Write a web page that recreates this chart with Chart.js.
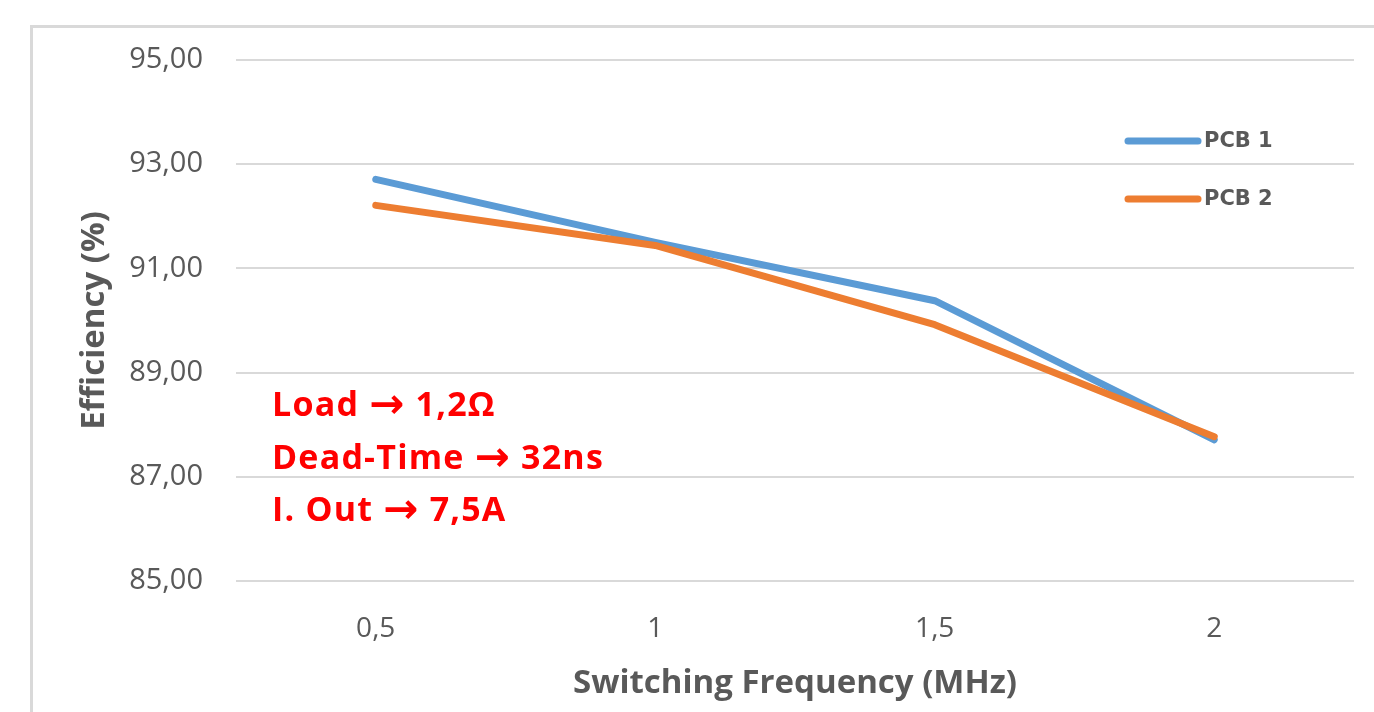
<!DOCTYPE html>
<html>
<head>
<meta charset="utf-8">
<script src="https://cdn.jsdelivr.net/npm/chart.js@4.4.1/dist/chart.umd.min.js"></script>
<style>
  html, body { margin: 0; padding: 0; background: #fff; overflow: hidden; }
  #wrap { position: relative; width: 1374px; height: 712px; }
  #frame {
    position: absolute; left: 30px; top: 25px; right: -10px; bottom: -10px;
    border-left: 3px solid #d9d9d9; border-top: 3px solid #d9d9d9;
  }
  #chart { position: absolute; left: 0; top: 0; }
  #notes {
    position: absolute; left: 272px; top: 377px;
    font-family: "Open Sans", sans-serif; font-weight: bold; font-size: 34px;
    line-height: 52.5px; color: #ff0000; white-space: nowrap; letter-spacing: 1.2px;
  }
  #notes .arr {
    font-family: "DejaVu Sans", sans-serif; font-size: 42px;
    line-height: 0; vertical-align: -2px;
  }
</style>
</head>
<body>
<div id="wrap">
  <div id="frame"></div>
  <canvas id="chart" width="1374" height="712"></canvas>
  <div id="notes">
    <div>Load <span class="arr">→</span> 1,2Ω</div>
    <div>Dead-Time <span class="arr">→</span> 32ns</div>
    <div>I. Out <span class="arr">→</span> 7,5A</div>
  </div>
</div>
<script>
// Dados
const frequencies = ['0,5', '1', '1,5', '2'];
const pcb1 = [92.71, 91.50, 90.38, 87.71];
const pcb2 = [92.21, 91.44, 89.92, 87.77];
const yTicks = [85, 87, 89, 91, 93, 95];

const GRAY = '#595959';

/**
 * Legenda desenhada à mão, dentro da área do gráfico (canto superior direito).
 */
const legendPlugin = {
    id: 'innerLegend',
    afterDatasetsDraw(chart) {
        const ctx = chart.ctx;
        const x0 = 1128, x1 = 1198;
        const rows = [141, 199];
        ctx.save();
        chart.data.datasets.forEach((ds, i) => {
            const y = rows[i];
            ctx.strokeStyle = ds.borderColor;
            ctx.lineWidth = 7;
            ctx.lineCap = 'round';
            ctx.beginPath();
            ctx.moveTo(x0, y);
            ctx.lineTo(x1, y);
            ctx.stroke();
            ctx.fillStyle = GRAY;
            ctx.font = 'bold 21px "DejaVu Sans", sans-serif';
            ctx.textBaseline = 'middle';
            ctx.textAlign = 'left';
            ctx.fillText(ds.label, x1 + 6, y + 1);
        });
        ctx.restore();
    }
};

function initializeChart() {
    const canvas = document.getElementById('chart');
    if (!canvas) return;

    new Chart(canvas.getContext('2d'), {
        type: 'line',
        data: {
            labels: frequencies,
            datasets: [
                {
                    label: 'PCB 1',
                    data: pcb1,
                    borderColor: '#5b9bd5',
                    order: 1
                },
                {
                    label: 'PCB 2',
                    data: pcb2,
                    borderColor: '#ed7d31',
                    order: 0
                }
            ]
        },
        options: {
            responsive: false,
            devicePixelRatio: 1,
            animation: false,
            layout: { padding: { top: 60, right: 20, left: 0, bottom: 0 } },
            elements: {
                line: { borderWidth: 7, borderCapStyle: 'round', borderJoinStyle: 'round', tension: 0 },
                point: { radius: 0, hoverRadius: 0 }
            },
            plugins: {
                legend: { display: false },
                tooltip: { enabled: false },
                title: { display: false }
            },
            scales: {
                x: {
                    offset: true,
                    grid: { display: false },
                    border: { display: false },
                    ticks: {
                        color: GRAY,
                        font: { family: 'Open Sans', size: 28 },
                        padding: 23
                    },
                    title: {
                        display: true,
                        text: 'Switching Frequency (MHz)',
                        color: GRAY,
                        font: { family: 'Open Sans', size: 33, weight: 'bold' },
                        padding: { top: 0, bottom: 9 }
                    },
                    afterFit: (scale) => { scale.height = 131; }
                },
                y: {
                    min: 85,
                    max: 95,
                    afterBuildTicks: (scale) => {
                        scale.ticks = yTicks.map(v => ({ value: v }));
                    },
                    grid: { color: '#d9d9d9', lineWidth: 2, drawTicks: false },
                    border: { display: false },
                    ticks: {
                        color: GRAY,
                        font: { family: 'Open Sans', size: 29 },
                        padding: 33,
                        callback: (v) => v.toFixed(2).replace('.', ',')
                    },
                    title: {
                        display: true,
                        text: 'Efficiency (%)',
                        color: GRAY,
                        font: { family: 'Open Sans', size: 33, weight: 'bold' },
                        padding: { top: 75, bottom: 0 }
                    },
                    afterFit: (scale) => { scale.width = 236; }
                }
            }
        },
        plugins: [legendPlugin]
    });
}

document.addEventListener('DOMContentLoaded', initializeChart);
</script>
</body>
</html>
